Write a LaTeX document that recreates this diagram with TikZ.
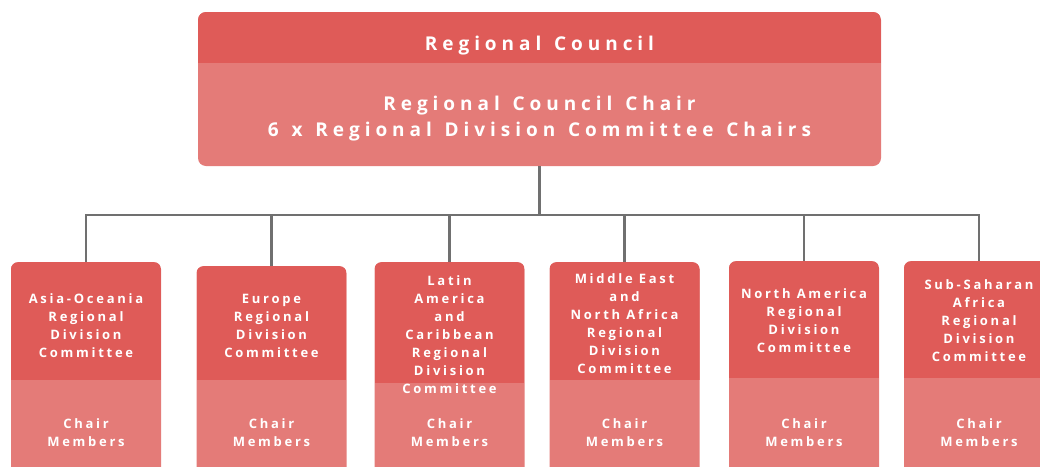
\documentclass[tikz,border=0pt]{standalone}
\usepackage{fontspec}
\setmainfont{Open Sans}
\newfontfamily\headfont[LetterSpace=26,WordSpace=1.3]{Open Sans}
\newfontfamily\spacedfont[LetterSpace=21]{Open Sans}
\usepackage{tikz}

\definecolor{darkred}{RGB}{223,91,88}
\definecolor{lightred}{RGB}{228,123,120}
\definecolor{linegray}{RGB}{112,112,112}

\tikzset{
  regionbox/.style={fill=lightred, rounded corners=7pt, inner sep=0pt,
    minimum width=150pt, minimum height=230pt, anchor=north},
  darktop/.style={path picture={\fill[darkred, sharp corners]
    (path picture bounding box.north west) rectangle
    ([yshift=-#1 pt]path picture bounding box.north east);}},
  headtext/.style={text=white, align=center,
    font=\headfont\bfseries\fontsize{19}{26}\selectfont},
  boxtext/.style={text=white, align=center, inner sep=0pt,
    font=\spacedfont\bfseries\fontsize{13}{18}\selectfont},
  link/.style={draw=linegray, line width=2.2pt}
}

\begin{document}
\begin{tikzpicture}[x=1pt,y=-1pt]
  \clip (0,0) rectangle (1040,466);
  \fill[white] (0,0) rectangle (1040,466);

  % council box
  \node[fill=lightred, rounded corners=8pt, minimum width=683pt,
    minimum height=154pt, darktop=51] (council) at (539.5,89) {};
  \node[headtext] (councilhead) at (539.5,46) {Regional Council};
  \node[headtext] (councilbody) at (539.5,119)
    {Regional Council Chair\\6 x Regional Division Committee Chairs};

  % division committees
  \node[regionbox, darktop=118] (asia) at (86,262) {};
  \node[regionbox, darktop=114] (europe) at (271.5,266) {};
  \node[regionbox, darktop=121] (latin) at (449.5,262) {};
  \node[regionbox, darktop=118] (mena) at (624.5,262) {};
  \node[regionbox, darktop=117] (namerica) at (804,261) {};
  \node[regionbox, darktop=117] (ssa) at (979,261) {};

  \node[boxtext] (asiatext) at (86,326)
    {Asia-Oceania\\Regional\\Division\\Committee};
  \node[boxtext] (europetext) at (271.5,326)
    {Europe\\Regional\\Division\\Committee};
  \node[boxtext] (latintext) at (449.5,335)
    {Latin\\America\\and\\Caribbean\\Regional\\Division\\Committee};
  \node[boxtext] (menatext) at (624.5,324)
    {Middle East\\and\\North Africa\\Regional\\Division\\Committee};
  \node[boxtext] (namericatext) at (804,321)
    {North America\\Regional\\Division\\Committee};
  \node[boxtext] (ssatext) at (979,321)
    {Sub-Saharan\\Africa\\Regional\\Division\\Committee};

  \node[boxtext] (asiamembers) at (86,433) {Chair\\Members};
  \node[boxtext] (europemembers) at (271.5,433) {Chair\\Members};
  \node[boxtext] (latinmembers) at (449.5,433) {Chair\\Members};
  \node[boxtext] (menamembers) at (624.5,433) {Chair\\Members};
  \node[boxtext] (namericamembers) at (804,433) {Chair\\Members};
  \node[boxtext] (ssamembers) at (979,433) {Chair\\Members};

  % connectors
  \draw[link] (council.south) -- ++(0,49) -| (asia.north);
  \draw[link] (council.south) -- ++(0,49) -| (europe.north);
  \draw[link] (council.south) -- ++(0,49) -| (latin.north);
  \draw[link] (council.south) -- ++(0,49) -| (mena.north);
  \draw[link] (council.south) -- ++(0,49) -| (namerica.north);
  \draw[link] (council.south) -- ++(0,49) -| (ssa.north);
\end{tikzpicture}
\end{document}
